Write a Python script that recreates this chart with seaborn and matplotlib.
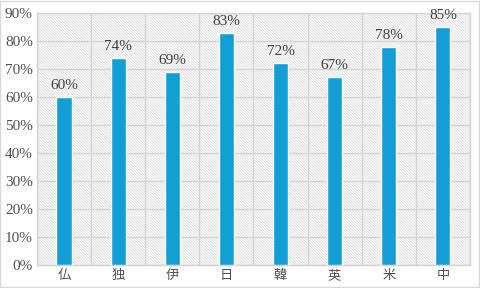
import matplotlib
matplotlib.use("Agg")
import matplotlib.pyplot as plt
import seaborn as sns
import pandas as pd
from matplotlib.patches import Rectangle

categories = ["仏", "独", "伊", "日", "韓", "英", "米", "中"]
values = [60, 74, 69, 83, 72, 67, 78, 85]
y_ticks = [0, 10, 20, 30, 40, 50, 60, 70, 80, 90]

sns.set_theme(style="white")
plt.rcParams['font.family'] = ['Liberation Serif', 'Noto Sans CJK JP', 'DejaVu Sans']
plt.rcParams['hatch.color'] = '#e0e0e0'
plt.rcParams['hatch.linewidth'] = 0.7

df = pd.DataFrame({"cat": categories, "val": values})

fig = plt.figure(figsize=(4.8, 2.88), dpi=100)
fig.patch.set_facecolor('white')
fig.patches.append(Rectangle((0.001, 0.002), 0.997, 0.995, transform=fig.transFigure,
                             fill=False, edgecolor='#d9d9d9', linewidth=1.0))
ax = fig.add_axes([0.077, 0.08, 0.902, 0.875])

bg = Rectangle((0, 0), 1, 1, transform=ax.transAxes, facecolor='white',
               edgecolor='#e0e0e0', hatch='\\' * 12, linewidth=0, zorder=0)
ax.add_patch(bg)

sns.barplot(data=df, x="cat", y="val", color='#139fd6', width=0.28, ax=ax,
            saturation=1, zorder=3)

for i, v in enumerate(values):
    ax.text(i, v + 1.8, f"{v}%", ha='center', va='bottom', fontsize=11,
            color='#404040', zorder=4)

ax.set_ylim(0, 90)
ax.set_xlim(-0.5, len(categories) - 0.5)
ax.set_yticks(y_ticks)
ax.set_yticklabels([f"{t}%" for t in y_ticks], fontsize=11, color='#505050')
ax.set_xticks(range(len(categories)))
ax.set_xticklabels(categories, fontsize=9.5, color='#505050',
                   fontfamily=['Noto Sans CJK JP', 'DejaVu Sans'])
ax.set_xlabel("")
ax.set_ylabel("")
ax.tick_params(axis='both', length=0, pad=3)

ax.set_xticks([i + 0.5 for i in range(-1, len(categories))], minor=True)
ax.grid(False)
ax.yaxis.grid(True, color='#d4d4d4', linewidth=1.0, zorder=1)
ax.xaxis.grid(True, which='minor', color='#d4d4d4', linewidth=1.0, zorder=1)
ax.tick_params(axis='x', which='minor', length=0)
ax.set_axisbelow(True)
for s in ax.spines.values():
    s.set_color('#d4d4d4')
    s.set_linewidth(1.0)

fig.savefig("out.png", dpi=100)
